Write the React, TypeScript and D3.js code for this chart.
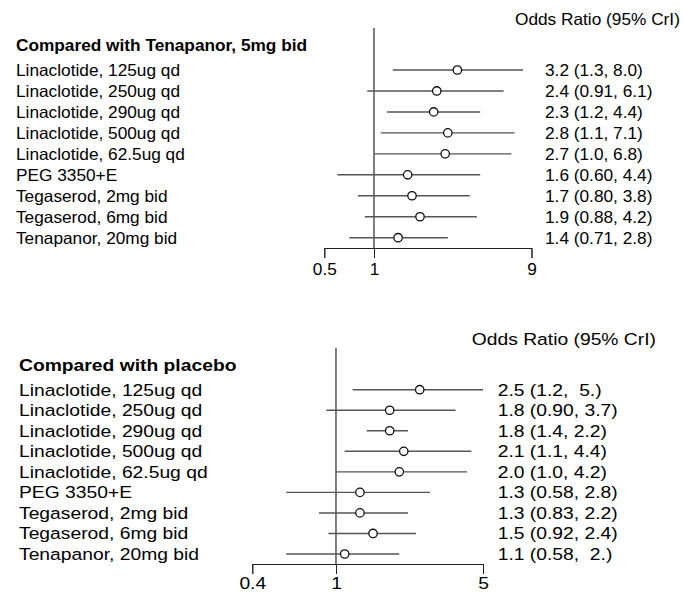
import React, { useEffect, useRef } from "react";
import * as d3 from "d3";

const treatments = [
  "Linaclotide, 125ug qd",
  "Linaclotide, 250ug qd",
  "Linaclotide, 290ug qd",
  "Linaclotide, 500ug qd",
  "Linaclotide, 62.5ug qd",
  "PEG 3350+E",
  "Tegaserod, 2mg bid",
  "Tegaserod, 6mg bid",
  "Tenapanor, 20mg bid",
];

// compared with Tenapanor, 5mg bid
const tenEst = [3.2, 2.4, 2.3, 2.8, 2.7, 1.6, 1.7, 1.9, 1.4];
const tenLow = [1.3, 0.91, 1.2, 1.1, 1.0, 0.6, 0.8, 0.88, 0.71];
const tenHigh = [8.0, 6.1, 4.4, 7.1, 6.8, 4.4, 3.8, 4.2, 2.8];
const tenLabels = [
  "3.2 (1.3, 8.0)",
  "2.4 (0.91, 6.1)",
  "2.3 (1.2, 4.4)",
  "2.8 (1.1, 7.1)",
  "2.7 (1.0, 6.8)",
  "1.6 (0.60, 4.4)",
  "1.7 (0.80, 3.8)",
  "1.9 (0.88, 4.2)",
  "1.4 (0.71, 2.8)",
];
const tenTicks = [0.5, 1, 9];
const tenTickLabels = ["0.5", "1", "9"];

// compared with placebo
const plaEst = [2.5, 1.8, 1.8, 2.1, 2.0, 1.3, 1.3, 1.5, 1.1];
const plaLow = [1.2, 0.9, 1.4, 1.1, 1.0, 0.58, 0.83, 0.92, 0.58];
const plaHigh = [5.0, 3.7, 2.2, 4.4, 4.2, 2.8, 2.2, 2.4, 2.0];
const plaLabels = [
  "2.5 (1.2,  5.)",
  "1.8 (0.90, 3.7)",
  "1.8 (1.4, 2.2)",
  "2.1 (1.1, 4.4)",
  "2.0 (1.0, 4.2)",
  "1.3 (0.58, 2.8)",
  "1.3 (0.83, 2.2)",
  "1.5 (0.92, 2.4)",
  "1.1 (0.58,  2.)",
];
const plaTicks = [0.4, 1, 5];
const plaTickLabels = ["0.4", "1", "5"];

const FONT = "'Liberation Sans', Arial, Helvetica, sans-serif";
const FS = 16.5;

const Txt = ({ x, y, sx, bold, children }: any) => (
  <text
    transform={`translate(${x},${y}) scale(${sx},1)`}
    fontFamily={FONT}
    fontSize={FS}
    fontWeight={bold ? "bold" : "normal"}
    fill="#000"
    style={{ whiteSpace: "pre" }}
  >
    {children}
  </text>
);

const Panel = ({ title, est, low, high, labels, ticks, tickLabels, L }: any) => {
  const axisRef = useRef<SVGGElement>(null);

  const x = d3
    .scaleLog()
    .domain([ticks[0], ticks[ticks.length - 1]])
    .range([L.x0, L.x1]);
  const y = d3.scalePoint().domain(treatments).range([L.y0, L.y1]);

  useEffect(() => {
    const g = d3.select(axisRef.current);
    g.call(
      d3
        .axisBottom(x)
        .tickValues(ticks)
        .tickFormat((d: any, i: number) => tickLabels[i])
        .tickSize(10)
        .tickSizeOuter(10)
        .tickPadding(L.pad)
    );
    g.attr("font-family", FONT).attr("font-size", FS);
    g.select(".domain").attr("stroke", "#222");
    g.selectAll(".tick line").attr("stroke", "#222");
    g.selectAll(".tick text")
      .attr("fill", "#000")
      .attr("transform", `scale(${L.sx},1)`);
  }, []);

  return (
    <g>
      <Txt x={L.orX} y={L.orY} sx={L.sx}>Odds Ratio (95% CrI)</Txt>
      <Txt x={L.labX} y={L.titleY} sx={L.sx} bold>
        {title}
      </Txt>
      <line x1={x(1)} x2={x(1)} y1={L.vTop} y2={L.axisY} stroke="#000" strokeWidth={1} />
      {treatments.map((t, i) => (
        <g key={t}>
          <Txt x={L.labX} y={y(t)! + 6} sx={L.sx}>
            {t}
          </Txt>
          <line
            x1={x(low[i])}
            x2={x(high[i])}
            y1={y(t)}
            y2={y(t)}
            stroke="#555"
            strokeWidth={1.4}
          />
          <circle cx={x(est[i])} cy={y(t)} r={4.2} fill="#fff" stroke="#111" strokeWidth={1.3} />
          <Txt x={L.valX} y={y(t)! + 6} sx={L.sx}>
            {labels[i]}
          </Txt>
        </g>
      ))}
      <g ref={axisRef} transform={`translate(0,${L.axisY})`} />
    </g>
  );
};

const topLayout = {
  sx: 1.046,
  x0: 324.3,
  x1: 531.5,
  y0: 70,
  y1: 237.7,
  axisY: 248,
  vTop: 28,
  pad: 5.5,
  labX: 16,
  valX: 545,
  titleY: 51,
  orX: 515,
  orY: 24.5,
};

const bottomLayout = {
  sx: 1.169,
  x0: 252.3,
  x1: 483,
  y0: 389.7,
  y1: 554,
  axisY: 564,
  vTop: 348,
  pad: 3,
  labX: 19,
  valX: 497.7,
  titleY: 371,
  orX: 471.7,
  orY: 344.5,
};

export default function App() {
  return (
    <svg
      width={683}
      height={594}
      style={{ position: "absolute", left: 0, top: 0, background: "#fff" }}
    >
      <Panel
        title="Compared with Tenapanor, 5mg bid"
        est={tenEst}
        low={tenLow}
        high={tenHigh}
        labels={tenLabels}
        ticks={tenTicks}
        tickLabels={tenTickLabels}
        L={topLayout}
      />
      <Panel
        title="Compared with placebo"
        est={plaEst}
        low={plaLow}
        high={plaHigh}
        labels={plaLabels}
        ticks={plaTicks}
        tickLabels={plaTickLabels}
        L={bottomLayout}
      />
    </svg>
  );
}
